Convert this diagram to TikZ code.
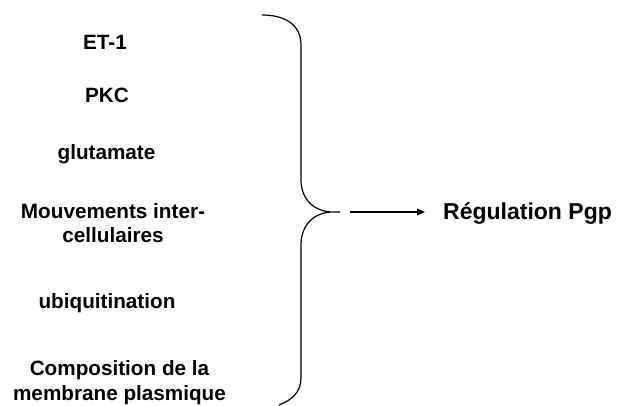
\documentclass[tikz,border=0pt]{standalone}
\usepackage{fontspec}
\setmainfont{Liberation Sans}
\usetikzlibrary{arrows.meta}
\begin{document}
\begin{tikzpicture} [
                x=1pt, y=-1pt,
                cause/.style={font=\bfseries\fontsize{20.7}{24.6}\selectfont,align=center,inner sep=0pt},
                result/.style={font=\bfseries\fontsize{23}{27}\selectfont,inner sep=0pt,anchor=base west},
                brace/.style = {draw,line width=1.2pt,line join=round},
                arrow/.style = {draw,line width=1.2pt,-{Triangle[length=8pt,width=7pt]}},
            ]
            \useasboundingbox (0,0) rectangle (621,405);
            % First we draw the causes
            \foreach \pos/\name/\label in {
                    {(105,42.6)/et/ET-1},
                    {(107,95.5)/pkc/PKC},
                    {(106.5,153.7)/glu/glutamate},
                    {(113,223)/mouv/Mouvements inter-\\cellulaires},
                    {(107,302.7)/ubi/ubiquitination},
                    {(119.5,382.7)/comp/Composition de la\\membrane plasmique}}
                \node[cause] (\name) at \pos {\label};
            % The brace gathering them
            \coordinate (tip) at (340,212);
            \path[brace] (262,15) .. controls (284,15) and (301,24) .. (301,45)
                -- (301,180) .. controls (301,200) and (315,212) .. (333,212) -- (tip)
                (333,212) .. controls (315,212) and (301,224) .. (301,245)
                -- (301,378) .. controls (301,392) and (292,400) .. (279,405);
            % Result and arrow
            \coordinate (start) at (350,212);
            \node[result] (reg) at (443,219) {Régulation Pgp};
            \path[arrow] (start) -- (start -| reg.west) [shorten >=18pt];
        \end{tikzpicture}
\end{document}
